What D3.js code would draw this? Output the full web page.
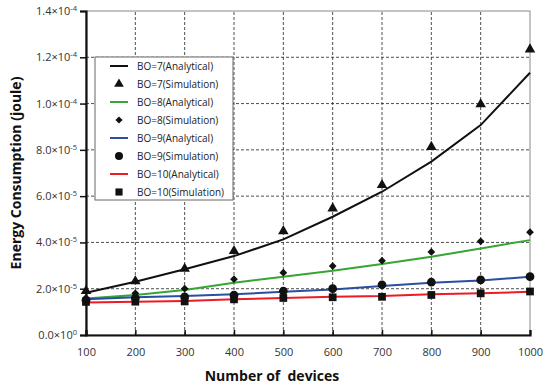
<!DOCTYPE html>
<html>
<head>
<meta charset="utf-8">
<script src="https://cdn.jsdelivr.net/npm/d3@7"></script>
<style>
  body { margin: 0; background: #fff; }
  text { font-family: "Open Sans", "Noto Sans", sans-serif; }
</style>
</head>
<body>
<script>
// data (values in 1e-5 joule)
var devices = [100, 200, 300, 400, 500, 600, 700, 800, 900, 1000];

var bo7Analytical = [1.83, 2.30, 2.84, 3.41, 4.13, 5.11, 6.19, 7.49, 9.07, 11.33];
var bo7Simulation = [1.90, 2.32, 2.86, 3.63, 4.49, 5.47, 6.48, 8.13, 9.97, 12.34];
var bo8Analytical = [1.58, 1.73, 1.94, 2.26, 2.52, 2.78, 3.07, 3.38, 3.74, 4.10];
var bo8Simulation = [1.60, 1.80, 2.00, 2.41, 2.69, 2.98, 3.21, 3.59, 4.05, 4.44];
var bo9Analytical = [1.54, 1.63, 1.68, 1.76, 1.87, 1.97, 2.12, 2.26, 2.35, 2.52];
var bo9Simulation = [1.50, 1.60, 1.65, 1.72, 1.90, 2.00, 2.17, 2.28, 2.38, 2.52];
var bo10Analytical = [1.40, 1.44, 1.47, 1.54, 1.60, 1.65, 1.68, 1.76, 1.80, 1.87];
var bo10Simulation = [1.43, 1.44, 1.45, 1.54, 1.60, 1.63, 1.65, 1.73, 1.80, 1.88];

var yTicks = [0, 2, 4, 6, 8, 10, 12, 14];
var yTickLabels = [["0.0", "0"], ["2.0", "-5"], ["4.0", "-5"], ["6.0", "-5"], ["8.0", "-5"],
                   ["1.0", "-4"], ["1.2", "-4"], ["1.4", "-4"]];

var series = [
  { name: "BO=7", color: "#111111", line: bo7Analytical, sim: bo7Simulation, shape: d3.symbolTriangle, size: 48, rot: 0 },
  { name: "BO=8", color: "#35a534", line: bo8Analytical, sim: bo8Simulation, shape: d3.symbolSquare, size: 30, rot: 45 },
  { name: "BO=9", color: "#2b4ea2", line: bo9Analytical, sim: bo9Simulation, shape: d3.symbolCircle, size: 60, rot: 0 },
  { name: "BO=10", color: "#ec1c24", line: bo10Analytical, sim: bo10Simulation, shape: d3.symbolSquare, size: 60, rot: 0 }
];

var width = 550, height = 390;
var margin = { left: 86, right: 20, top: 11, bottom: 55 };

var svg = d3.select("body").append("svg")
  .attr("width", width)
  .attr("height", height);

var x = d3.scaleLinear().domain([100, 1000]).range([margin.left, width - margin.right]);
var y = d3.scaleLinear().domain([0, 14]).range([height - margin.bottom, margin.top]);

// plot frame (top/right)
svg.append("rect")
  .attr("x", x(100)).attr("y", y(14))
  .attr("width", x(1000) - x(100)).attr("height", y(0) - y(14))
  .attr("fill", "none").attr("stroke", "#888").attr("stroke-width", 1);

// dashed grid
svg.append("g").selectAll("line.vg")
  .data(devices.slice(1, -1))
  .join("line")
  .attr("x1", d => x(d)).attr("x2", d => x(d))
  .attr("y1", y(0)).attr("y2", y(14))
  .attr("stroke", "#222").attr("stroke-width", 0.8).attr("stroke-dasharray", "3,2");

svg.append("g").selectAll("line.hg")
  .data(yTicks.slice(1, -1))
  .join("line")
  .attr("x1", x(100)).attr("x2", x(1000))
  .attr("y1", d => y(d)).attr("y2", d => y(d))
  .attr("stroke", "#222").attr("stroke-width", 0.8).attr("stroke-dasharray", "3,2");

// axes
var xAxis = svg.append("g")
  .attr("transform", "translate(0," + y(0) + ")")
  .call(d3.axisBottom(x).tickValues(devices).tickSize(-5).tickPadding(13).tickFormat(d3.format("d")));
xAxis.select(".domain").attr("stroke", "#111").attr("stroke-width", 2.2);
xAxis.selectAll(".tick line").attr("stroke", "#111").attr("stroke-width", 1.5);
xAxis.selectAll("text").attr("font-size", 11).attr("fill", "#333");

var yAxis = svg.append("g")
  .attr("transform", "translate(" + x(100) + ",0)")
  .call(d3.axisLeft(y).tickValues(yTicks).tickSize(6).tickPadding(3).tickFormat(""));
yAxis.select(".domain").attr("stroke", "#111").attr("stroke-width", 2.2);
yAxis.selectAll(".tick line").attr("stroke", "#111").attr("stroke-width", 1.5);

var yl = svg.append("g").selectAll("text")
  .data(yTicks)
  .join("text")
  .attr("x", x(100) - 9)
  .attr("y", d => y(d) + 4)
  .attr("text-anchor", "end")
  .attr("font-size", 11)
  .attr("fill", "#333");
yl.append("tspan").text((d, i) => yTickLabels[i][0] + "\u00d710");
yl.append("tspan").attr("dy", -4).attr("font-size", 7.5).text((d, i) => yTickLabels[i][1]);

// axis titles
svg.append("text")
  .attr("transform", "translate(21," + ((y(0) + y(14)) / 2) + ") rotate(-90)")
  .attr("text-anchor", "middle")
  .attr("font-size", 14).attr("font-weight", "bold").attr("fill", "#111")
  .text("Energy Consumption (joule)");

svg.append("text")
  .attr("x", 272).attr("y", 381)
  .attr("text-anchor", "middle")
  .style("white-space", "pre")
  .attr("font-size", 14).attr("font-weight", "bold").attr("fill", "#111")
  .text("Number of  devices");

// lines and markers
var line = d3.line().x((d, i) => x(devices[i])).y(d => y(d));

series.forEach(function (s) {
  svg.append("path")
    .datum(s.line)
    .attr("d", line)
    .attr("fill", "none")
    .attr("stroke", s.color)
    .attr("stroke-width", 2);
});

series.forEach(function (s) {
  svg.append("g").selectAll("path")
    .data(s.sim)
    .join("path")
    .attr("transform", (d, i) => "translate(" + x(devices[i]) + "," + y(d) + ") rotate(" + s.rot + ")")
    .attr("d", d3.symbol().type(s.shape).size(s.size))
    .attr("fill", "#111");
});

// legend
var legend = svg.append("g").attr("transform", "translate(95,57)");
legend.append("rect")
  .attr("width", 138).attr("height", 143)
  .attr("fill", "#fff").attr("stroke", "#666").attr("stroke-width", 1);

var entries = [];
series.forEach(function (s) {
  entries.push({ label: s.name + "(Analytical)", type: "line", color: s.color });
  entries.push({ label: s.name + "(Simulation)", type: "sym", shape: s.shape, size: s.size, rot: s.rot });
});

var le = legend.selectAll("g.entry")
  .data(entries)
  .join("g")
  .attr("transform", (d, i) => "translate(0," + (9 + i * 18) + ")");

le.filter(d => d.type === "line").append("line")
  .attr("x1", 15).attr("x2", 33)
  .attr("stroke", d => d.color).attr("stroke-width", 2);

le.filter(d => d.type === "sym").append("path")
  .attr("transform", d => "translate(24,0) rotate(" + d.rot + ")")
  .attr("d", d => d3.symbol().type(d.shape).size(d.size * 0.85)())
  .attr("fill", "#111");

le.append("text")
  .attr("x", 42).attr("y", 3.5)
  .attr("font-size", 10).attr("fill", "#222")
  .text(d => d.label);
</script>
</body>
</html>
